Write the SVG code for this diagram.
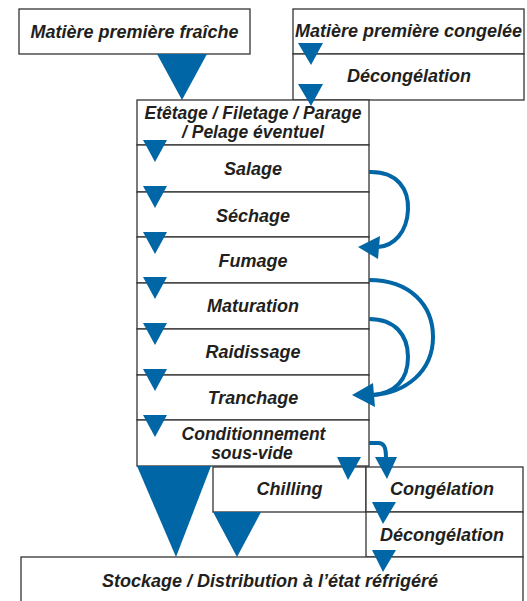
<svg xmlns="http://www.w3.org/2000/svg" width="527" height="601" viewBox="0 0 527 601">
<defs>
<style>
.box{fill:#fff;stroke:#333;stroke-width:1.3}
.t{font-family:"Liberation Sans",Arial,sans-serif;font-weight:bold;font-style:italic;font-size:18px;fill:#231f20;text-anchor:middle}
.t2{font-size:17.5px}
.tri{fill:#0066a6}
.arc{fill:none;stroke:#0066a6;stroke-width:4}
</style>
</defs>
<rect width="527" height="601" fill="#fff"/>
<g id="fraiche"><rect class="box" x="19" y="9" width="231" height="45"/><text class="t" x="134.5" y="38">Matière première fraîche</text></g>
<g id="congelee"><rect class="box" x="293" y="9" width="231" height="45"/><text class="t" x="408.5" y="37">Matière première congelée</text></g>
<g id="decongelation1"><rect class="box" x="293" y="54" width="231" height="46"/><text class="t" x="409" y="82">Décongélation</text></g>
<g id="etetage"><rect class="box" x="137" y="100" width="232" height="45"/><text class="t t2" x="253" y="118.5">Etêtage / Filetage / Parage</text><text class="t t2" x="253" y="138">/ Pelage éventuel</text></g>
<g id="salage"><rect class="box" x="137" y="145" width="232" height="47"/><text class="t" x="253" y="175">Salage</text></g>
<g id="sechage"><rect class="box" x="137" y="192" width="232" height="45"/><text class="t" x="253" y="222">Séchage</text></g>
<g id="fumage"><rect class="box" x="137" y="237" width="232" height="46"/><text class="t" x="253" y="267">Fumage</text></g>
<g id="maturation"><rect class="box" x="137" y="283" width="232" height="46"/><text class="t" x="253" y="312">Maturation</text></g>
<g id="raidissage"><rect class="box" x="137" y="329" width="232" height="46"/><text class="t" x="253" y="358">Raidissage</text></g>
<g id="tranchage"><rect class="box" x="137" y="375" width="232" height="45"/><text class="t" x="253" y="404">Tranchage</text></g>
<g id="conditionnement"><rect class="box" x="137" y="420" width="232" height="46"/><text class="t t2" x="253.5" y="439.5">Conditionnement</text><text class="t t2" x="252" y="459">sous-vide</text></g>
<g id="chilling"><rect class="box" x="213" y="467" width="153" height="45"/><text class="t" x="289.5" y="495">Chilling</text></g>
<g id="congelation"><rect class="box" x="366" y="467" width="157" height="45"/><text class="t" x="442" y="495">Congélation</text></g>
<g id="decongelation2"><rect class="box" x="366" y="512" width="157" height="45"/><text class="t" x="442" y="541">Décongélation</text></g>
<g id="stockage"><rect class="box" x="21" y="557" width="502" height="60"/><text class="t" x="270" y="587">Stockage / Distribution à l’état réfrigéré</text></g>
<g id="connectors">
<polygon class="tri" points="157,54 207,54 182,100"/>
<polygon class="tri" points="298,43 323,43 311,65"/>
<polygon class="tri" points="298,84 323,84 311,106"/>
<polygon class="tri" points="143,140 167,140 155,162"/>
<polygon class="tri" points="143,186 167,186 155,208"/>
<polygon class="tri" points="143,232 167,232 155,254"/>
<polygon class="tri" points="143,277 167,277 155,299"/>
<polygon class="tri" points="143,323 167,323 155,345"/>
<polygon class="tri" points="143,369 167,369 155,391"/>
<polygon class="tri" points="143,415 167,415 155,437"/>
<path class="arc" d="M369,172 C398,171 409,190 408,210 C407,232 394,246 378,247"/>
<polygon class="tri" points="358,247 380,236 378,259"/>
<path class="arc" d="M369,280 C410,280 433,305 433,337 C433,372 405,393 373,395"/>
<path class="arc" d="M369,319 C395,319 408,335 408,357 C408,380 395,393 373,395"/>
<polygon class="tri" points="352,395 373,383 375,407"/>
<path class="arc" d="M369,443 L378,443 C384,443 386,447 386,458"/>
<polygon class="tri" points="375,457 397,457 387,479"/>
<polygon class="tri" points="337,457 361,457 348,480"/>
<polygon class="tri" points="137,466 211,466 176,557"/>
<polygon class="tri" points="213,512 261,512 237,557"/>
<polygon class="tri" points="372,502 396,502 383,524"/>
<polygon class="tri" points="372,550 396,550 383,572"/>
</g>
</svg>
